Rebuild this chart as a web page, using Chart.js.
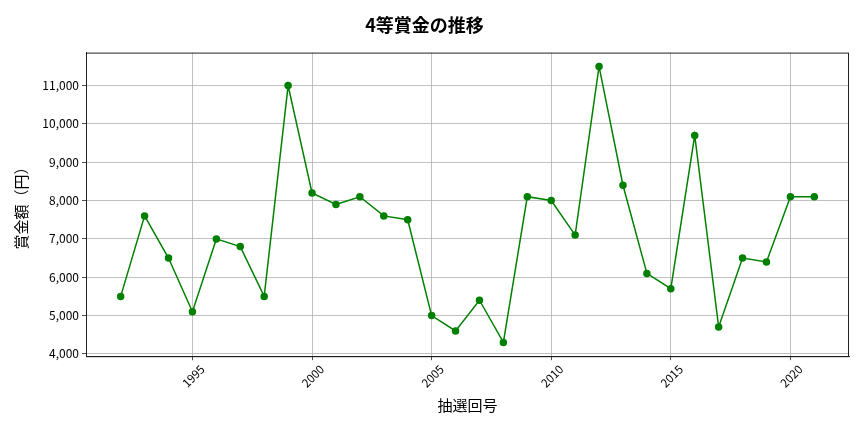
<!DOCTYPE html>
<html lang="ja">
<head>
<meta charset="UTF-8">
<title>4等賞金の推移</title>
<script src="https://cdn.jsdelivr.net/npm/chart.js@4/dist/chart.umd.min.js"></script>
<style>
    html, body { margin: 0; padding: 0; background: #fff; }
    #wrap { width: 864px; height: 432px; }
</style>
</head>
<body>
<div id="wrap"><canvas id="prizeChart"></canvas></div>
<script>
    const years = [1992, 1993, 1994, 1995, 1996, 1997, 1998, 1999, 2000, 2001,
                   2002, 2003, 2004, 2005, 2006, 2007, 2008, 2009, 2010, 2011,
                   2012, 2013, 2014, 2015, 2016, 2017, 2018, 2019, 2020, 2021];
    const prizes = [5500, 7600, 6500, 5100, 7000, 6800, 5500, 11000, 8200, 7900,
                    8100, 7600, 7500, 5000, 4600, 5400, 4300, 8100, 8000, 7100,
                    11500, 8400, 6100, 5700, 9700, 4700, 6500, 6400, 8100, 8100];
    const xTicks = [1995, 2000, 2005, 2010, 2015, 2020];
    const yTicks = [4000, 5000, 6000, 7000, 8000, 9000, 10000, 11000];

    const font = "'Noto Sans CJK JP', 'Noto Sans', sans-serif";

    // frame around the plot area like matplotlib
    const frame = {
        id: 'frame',
        afterDraw(chart) {
            const a = chart.chartArea, ctx = chart.ctx;
            ctx.save();
            ctx.strokeStyle = '#222';
            ctx.lineWidth = 1;
            ctx.strokeRect(a.left + 0.5, a.top + 0.5, a.right - a.left - 1, a.bottom - a.top);
            ctx.restore();
        }
    };

    new Chart(document.getElementById('prizeChart'), {
        type: 'line',
        data: {
            datasets: [{
                data: years.map((y, i) => ({ x: y, y: prizes[i] })),
                borderColor: '#008000',
                backgroundColor: '#008000',
                borderWidth: 1.5,
                pointRadius: 3,
                pointHoverRadius: 3,
                tension: 0
            }]
        },
        options: {
            responsive: true,
            maintainAspectRatio: false,
            animation: false,
            layout: { padding: { left: 0, right: 15, top: 0, bottom: 18 } },
            plugins: {
                legend: { display: false },
                tooltip: { enabled: false },
                title: {
                    display: true,
                    text: '4等賞金の推移',
                    color: '#000',
                    font: { family: font, size: 18, weight: 'bold' },
                    padding: { top: 14, bottom: 17 }
                }
            },
            scales: {
                x: {
                    type: 'linear',
                    min: 1990.55,
                    max: 2022.45,
                    afterBuildTicks: s => { s.ticks = xTicks.map(v => ({ value: v })); },
                    ticks: {
                        color: '#000',
                        font: { family: font, size: 11.5 },
                        maxRotation: 45,
                        minRotation: 45,
                        padding: 2,
                        labelOffset: 10,
                        callback: v => String(v)
                    },
                    grid: { color: '#b0b0b0', lineWidth: 0.8, tickLength: 4, tickColor: '#222' },
                    border: { color: '#222' },
                    title: {
                        display: true,
                        text: '抽選回号',
                        color: '#000',
                        font: { family: font, size: 15 },
                        padding: { top: 4, bottom: 0 }
                    }
                },
                y: {
                    min: 3940,
                    max: 11860,
                    afterBuildTicks: s => { s.ticks = yTicks.map(v => ({ value: v })); },
                    afterFit: s => { s.width = 86; },
                    ticks: {
                        color: '#000',
                        font: { family: font, size: 12 },
                        padding: 3,
                        callback: v => v.toLocaleString('en-US')
                    },
                    grid: { color: '#b0b0b0', lineWidth: 0.8, tickLength: 4, tickColor: '#222' },
                    border: { color: '#222' },
                    title: {
                        display: true,
                        text: '賞金額（円）',
                        color: '#000',
                        font: { family: font, size: 15 },
                        padding: { top: 12, bottom: 6 }
                    }
                }
            }
        },
        plugins: [frame]
    });
</script>
</body>
</html>
